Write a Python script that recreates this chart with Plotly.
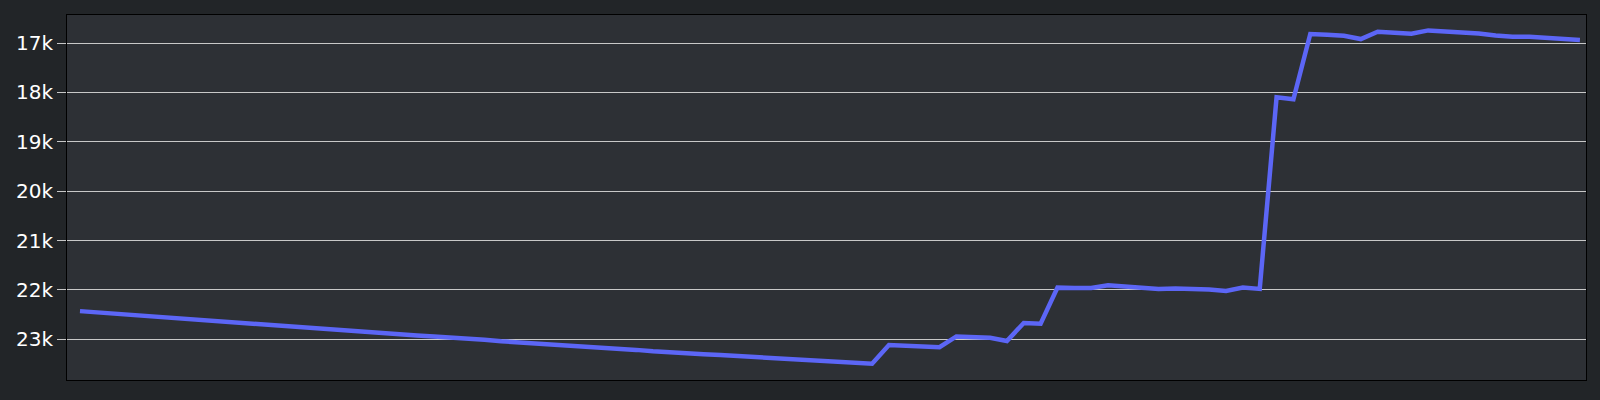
import plotly.graph_objects as go

x_index = list(range(90))
values = [
    22430, 22455, 22480, 22515, 22545, 22560, 22585, 22610, 22635, 22665,
    22690, 22715, 22745, 22770, 22795, 22815, 22840, 22855, 22880, 22905,
    22925, 22945, 22960, 22985, 23010, 23040, 23060, 23080, 23105, 23130,
    23150, 23170, 23190, 23215, 23245, 23270, 23290, 23305, 23320, 23340,
    23370, 23390, 23405, 23420, 23435, 23450, 23470, 23495, 23115, 23125,
    23136, 23160, 22942, 22947, 22968, 23035, 22670, 22684, 21954, 21960,
    21960, 21906, 21926, 21946, 21980, 21973, 21980, 21993, 22020, 21954,
    21980, 18100, 18140, 16818, 16832, 16852, 16919, 16771, 16791, 16811,
    16744, 16757, 16777, 16805, 16846, 16872, 16872, 16899, 16919, 16940,
]
y_tickvals = [17000, 18000, 19000, 20000, 21000, 22000, 23000]
y_ticktext = ["17k", "18k", "19k", "20k", "21k", "22k", "23k"]

fig = go.Figure()
fig.add_trace(go.Scatter(
    x=x_index, y=values, mode="lines",
    line=dict(color="#5c66f6", width=4.5),
    hoverinfo="y",
))

fig.update_layout(
    width=1600, height=400,
    margin=dict(l=67, r=14, t=15, b=20),
    paper_bgcolor="#222528",
    plot_bgcolor="#2d3035",
    showlegend=False,
    font=dict(family="DejaVu Sans", size=20, color="#ffffff"),
)
fig.update_xaxes(
    range=[-0.77, 89.36], showgrid=False, zeroline=False,
    showticklabels=False, ticks="",
    showline=True, linecolor="#000000", linewidth=1, mirror=True,
)
fig.update_yaxes(
    range=[23825, 16432], tickvals=y_tickvals, ticktext=y_ticktext,
    showgrid=True, gridcolor="#c8c8c8", gridwidth=1, zeroline=False,
    ticks="outside", ticklen=9, tickcolor="#c8c8c8",
    showline=True, linecolor="#000000", linewidth=1, mirror=True,
    tickfont=dict(family="DejaVu Sans", size=20, color="#ffffff"),
)

fig.write_html(
    "out.html",
    config={"displayModeBar": False},
    post_script="document.body.style.margin='0';document.body.style.background='#222528';",
)
